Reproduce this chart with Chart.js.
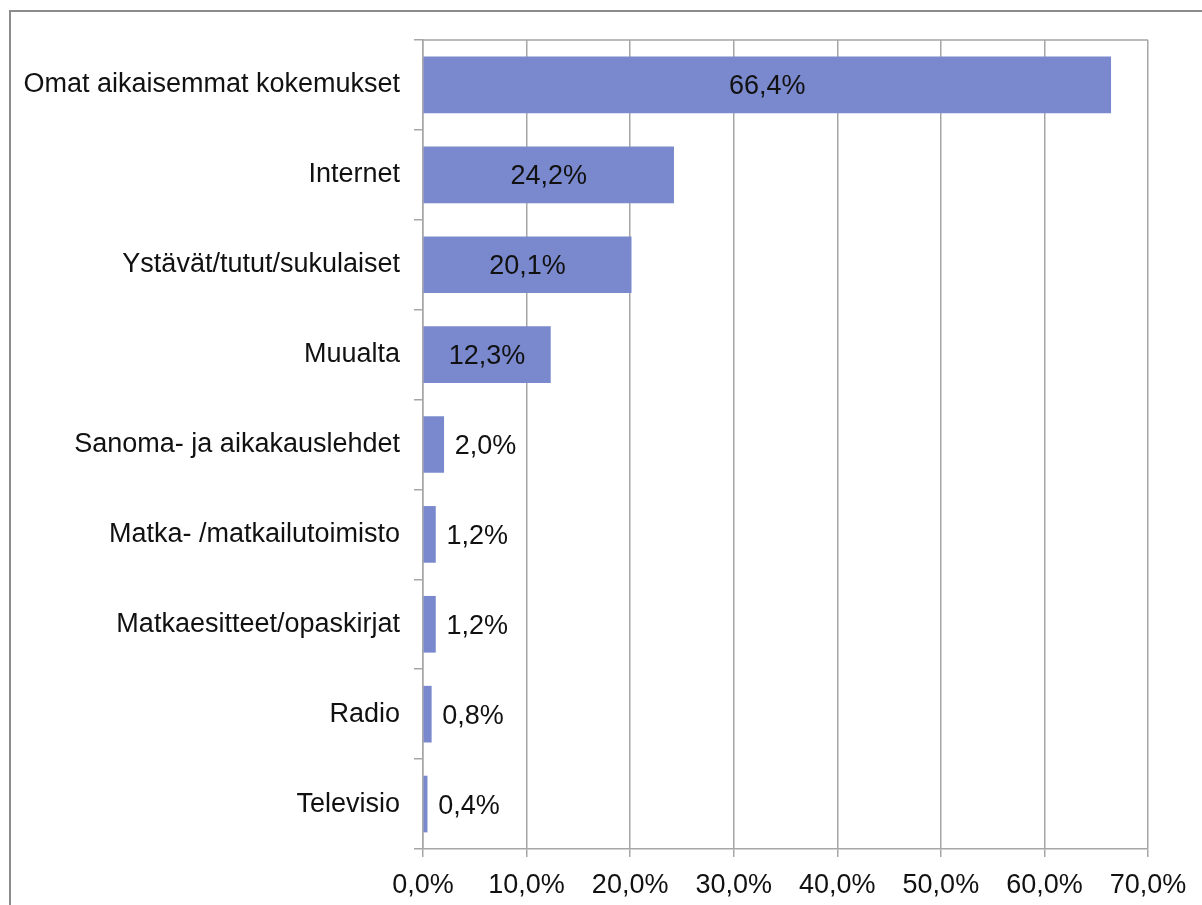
<!DOCTYPE html>
<html>
<head>
<meta charset="utf-8">
<script src="https://cdn.jsdelivr.net/npm/chart.js@4/dist/chart.umd.min.js"></script>
<style>
  html, body { margin: 0; padding: 0; background: #fff; overflow: hidden; }
  #wrap { position: relative; width: 1202px; height: 905px; }
  #frame { position: absolute; left: 9px; top: 10px; width: 1300px; height: 1000px; border: 2px solid #8c8c8c; }
  canvas { position: absolute; left: 0; top: 0; }
</style>
</head>
<body>
<div id="wrap">
  <div id="frame"></div>
  <canvas id="myChart" width="1202" height="905"></canvas>
</div>
<script>
// categories top to bottom, share of respondents in percent
const categories = [
  "Omat aikaisemmat kokemukset",
  "Internet",
  "Ystävät/tutut/sukulaiset",
  "Muualta",
  "Sanoma- ja aikakauslehdet",
  "Matka- /matkailutoimisto",
  "Matkaesitteet/opaskirjat",
  "Radio",
  "Televisio"
];
const shares = [66.4, 24.2, 20.1, 12.3, 2.0, 1.2, 1.2, 0.8, 0.4];
const axisTicks = [0, 10, 20, 30, 40, 50, 60, 70];

const FONT = "'Liberation Sans', Arial, sans-serif";
const fmt = (v) => v.toFixed(1).replace(".", ",") + "%";

// value labels: centered inside long bars, just past the end of short ones
const valueLabels = {
  id: "valueLabels",
  afterDatasetsDraw(chart) {
    const ctx = chart.ctx;
    const meta = chart.getDatasetMeta(0);
    ctx.save();
    ctx.font = "27px " + FONT;
    ctx.fillStyle = "#111";
    ctx.textBaseline = "middle";
    meta.data.forEach((bar, i) => {
      const v = shares[i];
      if (v > 5) {
        ctx.textAlign = "center";
        ctx.fillText(fmt(v), (bar.base + bar.x) / 2, bar.y + 2);
      } else {
        ctx.textAlign = "left";
        ctx.fillText(fmt(v), bar.x + 11, bar.y + 2);
      }
    });
    ctx.restore();
  }
};

// top edge of the plot area
const plotTop = {
  id: "plotTop",
  afterDraw(chart) {
    const a = chart.chartArea;
    const ctx = chart.ctx;
    ctx.save();
    ctx.strokeStyle = "#a6a6a6";
    ctx.lineWidth = 1.5;
    ctx.beginPath();
    ctx.moveTo(a.left, a.top);
    ctx.lineTo(a.right, a.top);
    ctx.stroke();
    ctx.restore();
  }
};

new Chart(document.getElementById("myChart"), {
  type: "bar",
  data: {
    labels: categories,
    datasets: [{
      data: shares,
      backgroundColor: "#7a89cd",
      borderWidth: 0,
      barThickness: 56
    }]
  },
  options: {
    indexAxis: "y",
    responsive: false,
    animation: false,
    layout: { padding: { top: 40, right: 54, left: 0, bottom: 0 } },
    plugins: { legend: { display: false }, tooltip: { enabled: false } },
    scales: {
      x: {
        min: 0,
        max: 70,
        afterBuildTicks(scale) { scale.ticks = axisTicks.map(v => ({ value: v })); },
        afterFit(scale) { scale.height = 56; },
        grid: { color: "#a6a6a6", lineWidth: 1.5, tickLength: 8 },
        border: { color: "#a6a6a6", width: 1.5 },
        ticks: {
          color: "#111",
          font: { family: FONT, size: 27 },
          padding: 12,
          maxRotation: 0,
          callback: (v) => fmt(v)
        }
      },
      y: {
        afterFit(scale) { scale.width = 423; },
        grid: { drawOnChartArea: false, color: "#a6a6a6", lineWidth: 1.5, tickLength: 9, offset: true },
        border: { color: "#a6a6a6", width: 1.5 },
        ticks: {
          color: "#111",
          font: { family: FONT, size: 27 },
          padding: 14
        }
      }
    }
  },
  plugins: [valueLabels, plotTop]
});
</script>
</body>
</html>
